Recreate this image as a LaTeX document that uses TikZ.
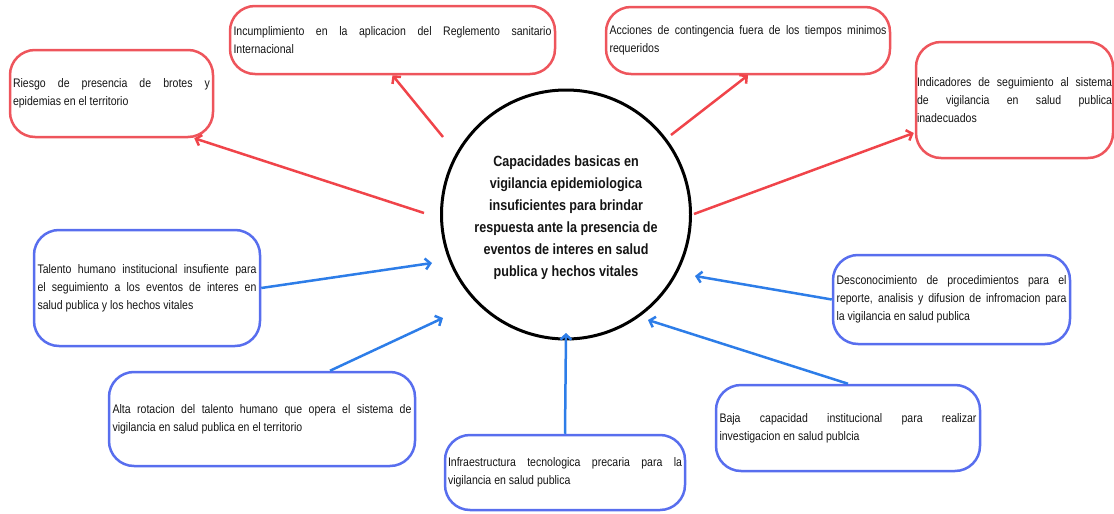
\documentclass[tikz,border=0pt]{standalone}
\usepackage{fontspec}
\newfontfamily\boxfam{Liberation Sans}[FakeStretch=0.85]
\usetikzlibrary{arrows.meta,calc}
\definecolor{bred}{RGB}{238,85,92}
\definecolor{ared}{RGB}{240,68,74}
\definecolor{bblue}{RGB}{88,110,238}
\definecolor{ablue}{RGB}{45,125,232}
\definecolor{txt}{RGB}{20,20,20}
\newcommand\boxfontsetup{\boxfam\fontsize{12.4}{18}\selectfont\hyphenpenalty=10000\relax\exhyphenpenalty=10000\relax}
\begin{document}
\begin{tikzpicture}[x=1pt,y=-1pt,
  boxbase/.style={draw, rounded corners=25pt, line width=2.5pt, align=justify, inner sep=0pt, text=txt,
    font=\boxfontsetup},
  redbox/.style={boxbase, draw=bred},
  bluebox/.style={boxbase, draw=bblue},
  redarrow/.style={draw=ared, line width=2.5pt, -{Straight Barb[length=5pt,width=11pt]}},
  bluearrow/.style={draw=ablue, line width=2.5pt, -{Straight Barb[length=5pt,width=11pt]}},
  centre/.style={draw=black, circle, line width=3pt, minimum size=249pt, inner sep=0pt, align=center, text=txt,
    font=\boxfam\bfseries\fontsize{14.8}{22}\selectfont}
]
\useasboundingbox (0,0) rectangle (1114,514);

\node[centre] (c) at (566,214.5) {\raisebox{-5.7pt}[0pt][0pt]{\begin{tabular}{@{}c@{}}Capacidades basicas en\\vigilancia epidemiologica\\insuficientes para brindar\\respuesta ante la presencia de\\eventos de interes en salud\\publica y hechos vitales\end{tabular}}};

\node[redbox, minimum width=203pt, minimum height=87pt, text width=197pt] (riesgo) at (111.5,93.5)
  {Riesgo de presencia de brotes y\linebreak epidemias en el territorio};
\node[redbox, minimum width=325pt, minimum height=68pt, text width=318pt] (incump) at (392.5,40)
  {Incumplimiento en la aplicacion del Reglemento sanitario\linebreak Internacional};
\node[redbox, minimum width=284pt, minimum height=67pt, text width=277pt] (acc) at (748,40.5)
  {Acciones de contingencia fuera de los tiempos minimos\linebreak requeridos};
\node[redbox, minimum width=197pt, minimum height=116pt, text width=195pt] (ind) at (1014.5,100)
  {Indicadores de seguimiento al sistema\linebreak de vigilancia en salud publica\linebreak inadecuados};

\node[bluebox, minimum width=226pt, minimum height=116pt, text width=219pt] (tal) at (147,288)
  {Talento humano institucional insufiente para\linebreak el seguimiento a los eventos de interes en\linebreak salud publica y los hechos vitales};
\node[bluebox, minimum width=237pt, minimum height=89pt, text width=230pt] (desc) at (951.5,299.5)
  {Desconocimiento de procedimientos para el\linebreak reporte, analisis y difusion de infromacion para\linebreak la vigilancia en salud publica};
\node[bluebox, minimum width=306pt, minimum height=94pt, text width=299pt] (alta) at (262,419)
  {Alta rotacion del talento humano que opera el sistema de\linebreak vigilancia en salud publica en el territorio};
\node[bluebox, minimum width=240pt, minimum height=75pt, text width=234pt] (infra) at (565,472.5)
  {Infraestructura tecnologica precaria para la\linebreak vigilancia en salud publica};
\node[bluebox, minimum width=264pt, minimum height=86pt, text width=257pt] (baja) at (848,428)
  {Baja capacidad institucional para realizar\linebreak investigacion en salud publcia};

% red arrows: from the circle outward
\coordinate (s1) at (424,213);
\coordinate (s2) at (443,137);
\coordinate (s3) at (671,135);
\coordinate (s4) at (694,214);
\draw[redarrow] (s1) -- ($(riesgo.south east)+(-20,0)$);
\draw[redarrow] (s2) -- (incump.south);
\draw[redarrow] (s3) -- (acc.south);
\draw[redarrow] (s4) -- ($(ind.west)+(-1,33)$);

% blue arrows: from boxes toward the circle
\coordinate (t5) at (432,263);
\coordinate (t6) at (443,318);
\coordinate (t7) at (566,333);
\coordinate (t8) at (648,320);
\coordinate (t9) at (695,276);
\draw[bluearrow] (tal.east) -- (t5);
\draw[bluearrow] ($(alta.north)+(68,0)$) -- (t6);
\draw[bluearrow] (infra.north) -- (t7);
\draw[bluearrow] (baja.north) -- (t8);
\draw[bluearrow] (desc.west) -- (t9);
\end{tikzpicture}
\end{document}
